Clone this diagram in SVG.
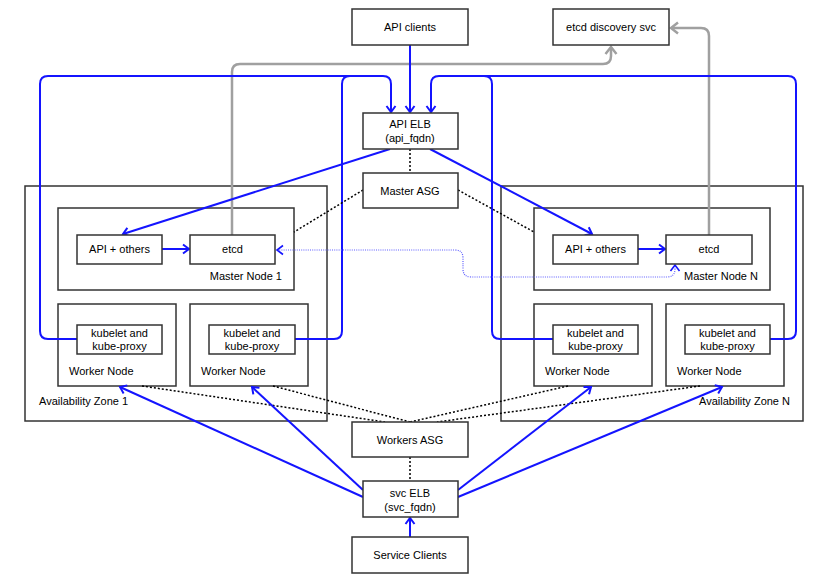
<svg xmlns="http://www.w3.org/2000/svg" width="827" height="582" viewBox="0 0 827 582">
<style>
.box{fill:#fff;stroke:#333;stroke-width:1.5}
.zone{fill:none;stroke:#333;stroke-width:1.5}
text{font-family:"Liberation Sans",Arial,sans-serif;font-size:11px;fill:#000}
.c{text-anchor:middle}
.e{text-anchor:end}
.blue{fill:none;stroke:#1414ff;stroke-width:2}
.gray{fill:none;stroke:#a0a0a0;stroke-width:2.5}
.dot{fill:none;stroke:#000;stroke-width:1.5;stroke-dasharray:2 2}
.bdot{fill:none;stroke:#5c5cff;stroke-width:1.2;stroke-dasharray:1 1.2}
</style>
<defs>
<marker id="ab" viewBox="-9 -6 11 12" refX="0" refY="0" markerWidth="11" markerHeight="12" markerUnits="userSpaceOnUse" orient="auto">
<path d="M-6,-4.5 L0,0 L-6,4.5" fill="none" stroke="#1414ff" stroke-width="2"/>
</marker>
<marker id="ag" viewBox="-10 -7 12 14" refX="0" refY="0" markerWidth="12" markerHeight="14" markerUnits="userSpaceOnUse" orient="auto">
<path d="M-7,-5.5 L0,0 L-7,5.5" fill="none" stroke="#a0a0a0" stroke-width="2.5"/>
</marker>
<marker id="abd" viewBox="-9 -6 11 12" refX="0" refY="0" markerWidth="11" markerHeight="12" markerUnits="userSpaceOnUse" orient="auto">
<path d="M-6,-4.5 L0,0 L-6,4.5" fill="none" stroke="#1414ff" stroke-width="1.6"/>
</marker>
</defs>
<rect width="827" height="582" fill="#fff"/>

<g id="az1"><rect class="zone" x="25" y="186" width="302" height="235"/><text x="39" y="405">Availability Zone 1</text></g>
<g id="azN"><rect class="zone" x="501" y="186" width="302" height="235"/><text class="e" x="790" y="405">Availability Zone N</text></g>

<g id="master1"><rect class="box" x="58" y="208" width="236" height="82"/><text class="e" x="282" y="280">Master Node 1</text></g>
<g id="masterN"><rect class="box" x="534" y="208" width="236" height="82"/><text class="e" x="758" y="280">Master Node N</text></g>

<g id="worker1a"><rect class="box" x="58" y="304" width="118" height="82"/><text x="69" y="375">Worker Node</text></g>
<g id="worker1b"><rect class="box" x="190" y="304" width="118" height="82"/><text x="201" y="375">Worker Node</text></g>
<g id="workerNa"><rect class="box" x="534" y="304" width="118" height="82"/><text x="545" y="375">Worker Node</text></g>
<g id="workerNb"><rect class="box" x="666" y="304" width="118" height="82"/><text x="677" y="375">Worker Node</text></g>

<g id="connectors">
<!-- gray etcd discovery -->
<path class="gray" d="M232,235 V72 Q232,64 240,64 H603 Q611,64 611,56 V47" marker-end="url(#ag)"/>
<path class="gray" d="M709,235 V36 Q709,28 701,28 H671" marker-end="url(#ag)"/>
<!-- blue kubelet loops -->
<path class="blue" d="M77,339 H48 Q40,339 40,331 V84 Q40,76 48,76 H383 Q391,76 391,84 V112" marker-end="url(#ab)"/>
<path class="blue" d="M295,339 H334 Q342,339 342,331 V84 Q342,76 350,76 H383"/>
<path class="blue" d="M553,339 H500 Q492,339 492,331 V84 Q492,76 484,76 H439 Q431,76 431,84 V112" marker-end="url(#ab)"/>
<path class="blue" d="M770,339 H788 Q796,339 796,331 V84 Q796,76 788,76 H439"/>
<path class="blue" d="M410,45 V112" marker-end="url(#ab)"/>
<!-- ELB to API -->
<path class="blue" d="M390,149 L123,234" marker-end="url(#ab)"/>
<path class="blue" d="M430,149 L592,234" marker-end="url(#ab)"/>
<path class="blue" d="M162,249 H189" marker-end="url(#ab)"/>
<path class="blue" d="M638,249 H665" marker-end="url(#ab)"/>
<!-- etcd peer dotted -->
<path class="bdot" d="M277,250 H455 Q463,250 463,258 V269 Q463,277 471,277 H667 Q675,277 675,269 V265"/>
<path d="M283,245.5 L277,250 L283,254.5" fill="none" stroke="#1414ff" stroke-width="1.6"/>
<path d="M670.5,271 L675,265 L679.5,271" fill="none" stroke="#1414ff" stroke-width="1.6"/>
<!-- ASG dotted -->
<path class="dot" d="M410,149 V173"/>
<path class="dot" d="M363,190 L294,232"/>
<path class="dot" d="M458,190 L534,232"/>
<path class="dot" d="M142,386 L385,422"/>
<path class="dot" d="M273,386 L410,422"/>
<path class="dot" d="M568,386 L410,422"/>
<path class="dot" d="M700,386 L437,422"/>
<path class="dot" d="M410,457 V481"/>
<!-- svc ELB to workers -->
<path class="blue" d="M363,497 L120,387" marker-end="url(#ab)"/>
<path class="blue" d="M363,490 L252,387" marker-end="url(#ab)"/>
<path class="blue" d="M458,490 L591,387" marker-end="url(#ab)"/>
<path class="blue" d="M458,497 L722,387" marker-end="url(#ab)"/>
<path class="blue" d="M410,537 V518" marker-end="url(#ab)"/>
</g>

<g id="api-clients"><rect class="box" x="352" y="9" width="116" height="36"/><text class="c" x="410" y="31">API clients</text></g>
<g id="etcd-discovery"><rect class="box" x="553" y="9" width="116" height="36"/><text class="c" x="611" y="31">etcd discovery svc</text></g>
<g id="api-elb"><rect class="box" x="363" y="113" width="95" height="36"/><text class="c" x="410" y="128">API ELB</text><text class="c" x="410" y="142">(api_fqdn)</text></g>
<g id="master-asg"><rect class="box" x="363" y="173" width="95" height="35"/><text class="c" x="410" y="195">Master ASG</text></g>

<g id="api1"><rect class="box" x="77" y="235" width="85" height="29"/><text class="c" x="119.5" y="253">API + others</text></g>
<g id="etcd1"><rect class="box" x="190" y="235" width="85" height="29"/><text class="c" x="232.5" y="253">etcd</text></g>
<g id="apiN"><rect class="box" x="553" y="235" width="85" height="29"/><text class="c" x="595.5" y="253">API + others</text></g>
<g id="etcdN"><rect class="box" x="666" y="235" width="86" height="29"/><text class="c" x="709" y="253">etcd</text></g>

<g id="kubelet1a"><rect class="box" x="77" y="325" width="85" height="29"/><text class="c" x="119.5" y="337">kubelet and</text><text class="c" x="119.5" y="350">kube-proxy</text></g>
<g id="kubelet1b"><rect class="box" x="209" y="325" width="86" height="29"/><text class="c" x="252" y="337">kubelet and</text><text class="c" x="252" y="350">kube-proxy</text></g>
<g id="kubeletNa"><rect class="box" x="553" y="325" width="85" height="29"/><text class="c" x="595.5" y="337">kubelet and</text><text class="c" x="595.5" y="350">kube-proxy</text></g>
<g id="kubeletNb"><rect class="box" x="685" y="325" width="85" height="29"/><text class="c" x="727.5" y="337">kubelet and</text><text class="c" x="727.5" y="350">kube-proxy</text></g>

<g id="workers-asg"><rect class="box" x="352" y="422" width="116" height="35"/><text class="c" x="410" y="444">Workers ASG</text></g>
<g id="svc-elb"><rect class="box" x="363" y="481" width="95" height="36"/><text class="c" x="410" y="497">svc ELB</text><text class="c" x="410" y="511">(svc_fqdn)</text></g>
<g id="service-clients"><rect class="box" x="352" y="537" width="116" height="36"/><text class="c" x="410" y="559">Service Clients</text></g>
</svg>
